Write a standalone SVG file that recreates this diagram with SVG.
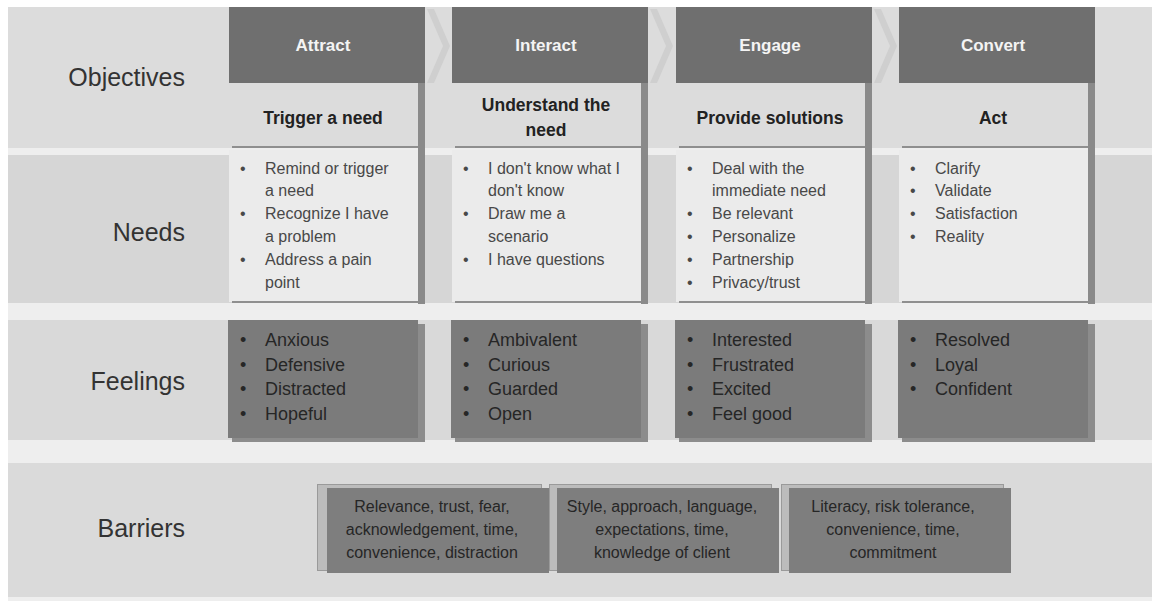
<svg xmlns="http://www.w3.org/2000/svg" width="1164" height="610" viewBox="0 0 1164 610">
<style>
text{font-family:"Liberation Sans",Arial,sans-serif}
.lbl{font-size:25px;fill:#333;text-anchor:end}
.hd{font-size:17px;font-weight:bold;fill:#f4f4f4;text-anchor:middle}
.sub{font-size:17.5px;font-weight:bold;fill:#222;text-anchor:middle}
.nd{font-size:16px;fill:#484848}
.fl{font-size:18px;fill:#262626}
.br{font-size:16px;fill:#262626;text-anchor:middle}
.head{fill:#6f6f6f}
.subbox{fill:#dcdcdc}
.needbox{fill:#ebebeb}
.stripe{fill:#8a8a8a}
.edge{fill:#8f8f8f}
.feel{fill:#7b7b7b}
.fshadow{fill:#8c8c8c}
.chev{fill:#cfcfcf}
.bouter{fill:#bcbcbc;stroke:#9a9a9a;stroke-width:1}
.bdark{fill:#7e7e7e}
</style>
<rect x="0" y="0" width="1164" height="610" fill="#ffffff"/>
<g id="bands">
<rect x="8" y="7" width="1144" height="594" fill="#eeeeee"/>
<rect x="8" y="7" width="1144" height="141" fill="#dcdcdc"/>
<rect x="8" y="155" width="1144" height="148" fill="#d6d6d6"/>
<rect x="8" y="320" width="1144" height="120" fill="#d9d9d9"/>
<rect x="8" y="463" width="1144" height="134" fill="#dadada"/>
</g>
<g id="labels">
<text class="lbl" x="185" y="86">Objectives</text>
<text class="lbl" x="185" y="241">Needs</text>
<text class="lbl" x="185" y="390">Feelings</text>
<text class="lbl" x="185" y="537">Barriers</text>
</g>
<g id="connectors">
<polygon class="chev" points="427,9 434,9 450,46 434,83 427,83 443,46"/>
<polygon class="chev" points="650,9 657,9 673,46 657,83 650,83 666,46"/>
<polygon class="chev" points="874,9 881,9 897,46 881,83 874,83 890,46"/>
</g>
<g id="col-attract">
<rect class="stripe" x="418" y="7" width="7" height="297"/>
<rect class="head" x="229" y="7" width="196" height="76"/>
<rect class="subbox" x="229" y="83" width="189" height="65"/>
<rect class="edge" x="232" y="146" width="186" height="2"/>
<text class="hd" x="323" y="51">Attract</text>
<text class="sub" x="323" y="124">Trigger a need</text>
<rect class="needbox" x="229" y="150" width="189" height="152"/>
<rect class="edge" x="232" y="301" width="186" height="2"/>
<text class="nd" x="240" y="173.5">•</text><text class="nd" x="265" y="173.5">Remind or trigger</text>
<text class="nd" x="265" y="196.3">a need</text>
<text class="nd" x="240" y="219.1">•</text><text class="nd" x="265" y="219.1">Recognize I have</text>
<text class="nd" x="265" y="241.9">a problem</text>
<text class="nd" x="240" y="264.7">•</text><text class="nd" x="265" y="264.7">Address a pain</text>
<text class="nd" x="265" y="287.5">point</text>
<rect class="fshadow" x="232" y="324" width="193" height="118"/>
<rect class="feel" x="228" y="320" width="190" height="118"/>
<text class="fl" x="240" y="346">•</text><text class="fl" x="265" y="346">Anxious</text>
<text class="fl" x="240" y="370.7">•</text><text class="fl" x="265" y="370.7">Defensive</text>
<text class="fl" x="240" y="395.4">•</text><text class="fl" x="265" y="395.4">Distracted</text>
<text class="fl" x="240" y="420">•</text><text class="fl" x="265" y="420">Hopeful</text>
</g>
<g id="col-interact">
<rect class="stripe" x="641" y="7" width="7" height="297"/>
<rect class="head" x="452" y="7" width="196" height="76"/>
<rect class="subbox" x="452" y="83" width="189" height="65"/>
<rect class="edge" x="455" y="146" width="186" height="2"/>
<text class="hd" x="546" y="51">Interact</text>
<text class="sub" x="546" y="111">Understand the</text>
<text class="sub" x="546" y="136">need</text>
<rect class="needbox" x="452" y="150" width="189" height="152"/>
<rect class="edge" x="455" y="301" width="186" height="2"/>
<text class="nd" x="463" y="173.5">•</text><text class="nd" x="488" y="173.5">I don't know what I</text>
<text class="nd" x="488" y="196.3">don't know</text>
<text class="nd" x="463" y="219.1">•</text><text class="nd" x="488" y="219.1">Draw me a</text>
<text class="nd" x="488" y="241.9">scenario</text>
<text class="nd" x="463" y="264.7">•</text><text class="nd" x="488" y="264.7">I have questions</text>
<rect class="fshadow" x="455" y="324" width="193" height="118"/>
<rect class="feel" x="451" y="320" width="190" height="118"/>
<text class="fl" x="463" y="346">•</text><text class="fl" x="488" y="346">Ambivalent</text>
<text class="fl" x="463" y="370.7">•</text><text class="fl" x="488" y="370.7">Curious</text>
<text class="fl" x="463" y="395.4">•</text><text class="fl" x="488" y="395.4">Guarded</text>
<text class="fl" x="463" y="420">•</text><text class="fl" x="488" y="420">Open</text>
</g>
<g id="col-engage">
<rect class="stripe" x="865" y="7" width="7" height="297"/>
<rect class="head" x="676" y="7" width="196" height="76"/>
<rect class="subbox" x="676" y="83" width="189" height="65"/>
<rect class="edge" x="679" y="146" width="186" height="2"/>
<text class="hd" x="770" y="51">Engage</text>
<text class="sub" x="770" y="124">Provide solutions</text>
<rect class="needbox" x="676" y="150" width="189" height="152"/>
<rect class="edge" x="679" y="301" width="186" height="2"/>
<text class="nd" x="687" y="173.5">•</text><text class="nd" x="712" y="173.5">Deal with the</text>
<text class="nd" x="712" y="196.3">immediate need</text>
<text class="nd" x="687" y="219.1">•</text><text class="nd" x="712" y="219.1">Be relevant</text>
<text class="nd" x="687" y="241.9">•</text><text class="nd" x="712" y="241.9">Personalize</text>
<text class="nd" x="687" y="264.7">•</text><text class="nd" x="712" y="264.7">Partnership</text>
<text class="nd" x="687" y="287.5">•</text><text class="nd" x="712" y="287.5">Privacy/trust</text>
<rect class="fshadow" x="679" y="324" width="193" height="118"/>
<rect class="feel" x="675" y="320" width="190" height="118"/>
<text class="fl" x="687" y="346">•</text><text class="fl" x="712" y="346">Interested</text>
<text class="fl" x="687" y="370.7">•</text><text class="fl" x="712" y="370.7">Frustrated</text>
<text class="fl" x="687" y="395.4">•</text><text class="fl" x="712" y="395.4">Excited</text>
<text class="fl" x="687" y="420">•</text><text class="fl" x="712" y="420">Feel good</text>
</g>
<g id="col-convert">
<rect class="stripe" x="1088" y="7" width="7" height="297"/>
<rect class="head" x="899" y="7" width="196" height="76"/>
<rect class="subbox" x="899" y="83" width="189" height="65"/>
<rect class="edge" x="902" y="146" width="186" height="2"/>
<text class="hd" x="993" y="51">Convert</text>
<text class="sub" x="993" y="124">Act</text>
<rect class="needbox" x="899" y="150" width="189" height="152"/>
<rect class="edge" x="902" y="301" width="186" height="2"/>
<text class="nd" x="910" y="173.5">•</text><text class="nd" x="935" y="173.5">Clarify</text>
<text class="nd" x="910" y="196.3">•</text><text class="nd" x="935" y="196.3">Validate</text>
<text class="nd" x="910" y="219.1">•</text><text class="nd" x="935" y="219.1">Satisfaction</text>
<text class="nd" x="910" y="241.9">•</text><text class="nd" x="935" y="241.9">Reality</text>
<rect class="fshadow" x="902" y="324" width="193" height="118"/>
<rect class="feel" x="898" y="320" width="190" height="118"/>
<text class="fl" x="910" y="346">•</text><text class="fl" x="935" y="346">Resolved</text>
<text class="fl" x="910" y="370.7">•</text><text class="fl" x="935" y="370.7">Loyal</text>
<text class="fl" x="910" y="395.4">•</text><text class="fl" x="935" y="395.4">Confident</text>
</g>
<g id="barrier-1">
<rect class="bouter" x="317.5" y="484.5" width="224" height="86"/>
<rect class="bdark" x="327" y="488" width="222" height="85"/>
<text class="br" x="432" y="512">Relevance, trust, fear,</text>
<text class="br" x="432" y="535">acknowledgement, time,</text>
<text class="br" x="432" y="558">convenience, distraction</text>
</g>
<g id="barrier-2">
<rect class="bouter" x="549.5" y="484.5" width="222" height="86"/>
<rect class="bdark" x="557" y="488" width="222" height="85"/>
<text class="br" x="662" y="512">Style, approach, language,</text>
<text class="br" x="662" y="535">expectations, time,</text>
<text class="br" x="662" y="558">knowledge of client</text>
</g>
<g id="barrier-3">
<rect class="bouter" x="781.5" y="484.5" width="222" height="86"/>
<rect class="bdark" x="789" y="488" width="222" height="85"/>
<text class="br" x="893" y="512">Literacy, risk tolerance,</text>
<text class="br" x="893" y="535">convenience, time,</text>
<text class="br" x="893" y="558">commitment</text>
</g>
</svg>
